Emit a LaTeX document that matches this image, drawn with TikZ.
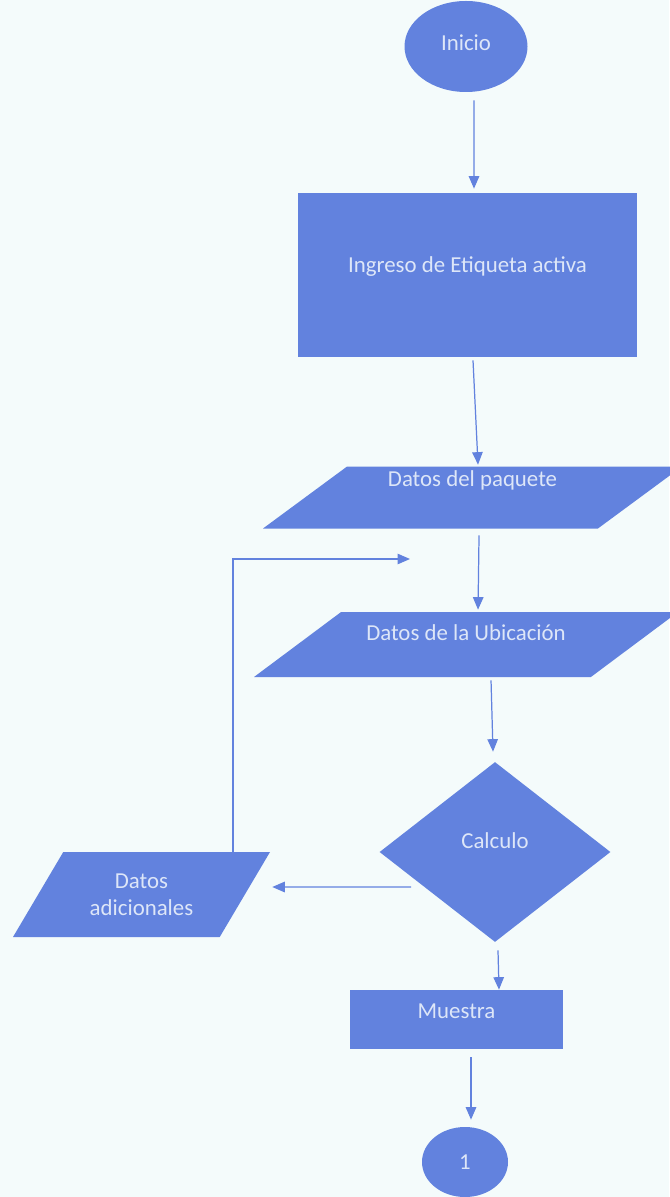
\documentclass[tikz,border=0pt]{standalone}
\usepackage{fontspec}
\setmainfont{Carlito}
\usepackage{tikz}
\usetikzlibrary{shapes.geometric,arrows.meta}
\definecolor{fondo}{HTML}{F4FBFB}
\definecolor{azul}{HTML}{6282DE}
\definecolor{letra}{HTML}{DDE6F8}
\newcommand\fuente{\fontsize{13}{15.4}\selectfont}

\begin{document}
\begin{tikzpicture}[
  forma/.style={fill=azul, draw=none, text=letra, inner sep=0pt, font=\fuente},
  sube/.style={text height=0.35cm, text depth=#1},
  caja/.style={forma, rectangle, minimum width=#1},
  datos/.style={forma, trapezium, trapezium stretches body=true, trapezium left angle=#1, trapezium right angle=180-#1},
  flecha/.style={draw=azul, line width=0.7pt, -{Triangle[length=2.5mm,width=2.1mm]}}]
\path[use as bounding box, fill=fondo] (0,0) rectangle (13.38,-23.94);

\node[forma, ellipse, minimum width=2.46cm, minimum height=1.82cm, sube=0.19cm] (inicio) at (9.32,-0.93) {Inicio};
\node[caja=6.78cm, minimum height=3.28cm, sube=0.47cm] (ingreso) at (9.35,-5.51) {Ingreso de Etiqueta activa};
\node[datos=34.6, minimum width=8.38cm, minimum height=1.24cm, sube=0.81cm] (paquete) at (9.45,-9.95) {Datos del paquete};
\node[datos=26.8, minimum width=8.48cm, minimum height=1.30cm, sube=0.53cm] (ubicacion) at (9.32,-12.89) {Datos de la Ubicación};
\node[forma, diamond, minimum width=4.62cm, minimum height=3.6cm, sube=0.51cm] (calculo) at (9.9,-17.04) {Calculo};
\node[datos=39.8, minimum width=5.14cm, minimum height=1.7cm, align=center] (adicionales) at (2.83,-17.89) {Datos\\adicionales};
\node[caja=4.26cm, minimum height=1.18cm, sube=0.39cm] (muestra) at (9.13,-20.39) {Muestra};
\node[forma, ellipse, minimum width=1.72cm, minimum height=1.4cm, sube=0.05cm] (uno) at (9.3,-23.24) {1};
\coordinate (retorno) at (8.2,-11.18);

\draw[flecha] ([xshift=0.16cm,yshift=-0.16cm]inicio.south) -- ([xshift=0.13cm,yshift=0.09cm]ingreso.north);
\draw[flecha] ([xshift=0.11cm,yshift=-0.05cm]ingreso.south) -- ([xshift=0.11cm,yshift=0.03cm]paquete.north);
\draw[flecha] ([xshift=0.13cm,yshift=-0.13cm]paquete.south) -- ([xshift=0.24cm,yshift=0.04cm]ubicacion.north);
\draw[flecha] ([xshift=0.5cm,yshift=-0.06cm]ubicacion.south) -- ([xshift=-0.04cm,yshift=0.2cm]calculo.north);
\draw[flecha] ([xshift=0.06cm,yshift=-0.16cm]calculo.south) -- ([xshift=0.85cm]muestra.north);
\draw[flecha] ([xshift=0.29cm,yshift=-0.16cm]muestra.south) -- ([xshift=0.12cm,yshift=0.14cm]uno.north);
\draw[flecha] ([xshift=0.64cm,yshift=-0.7cm]calculo.west) -- ([xshift=0.54cm,yshift=0.15cm]adicionales.east);
\draw[flecha] ([xshift=1.83cm]adicionales.north) |- (retorno);
\end{tikzpicture}
\end{document}
